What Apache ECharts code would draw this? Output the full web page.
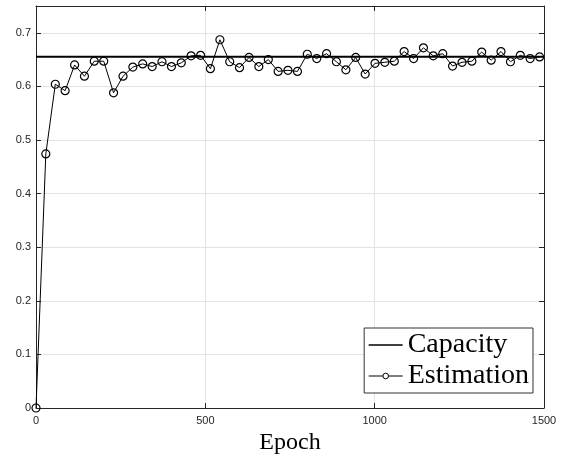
<!DOCTYPE html>
<html>
<head>
<meta charset="utf-8">
<script src="https://cdn.jsdelivr.net/npm/echarts@6/dist/echarts.min.js"></script>
<style>html,body{margin:0;padding:0;background:#fff;}#c{width:566px;height:456px;}</style>
</head>
<body>
<div id="c"></div>
<script>
const epochs = [0, 29, 57, 86, 114, 143, 172, 200, 229, 257, 286, 315, 343, 372, 400, 429, 458, 486, 515, 543, 572, 601, 629, 658, 686, 715, 744, 772, 801, 829, 858, 887, 915, 944, 972, 1001, 1030, 1058, 1087, 1115, 1144, 1173, 1201, 1230, 1258, 1287, 1316, 1344, 1373, 1401, 1430, 1459, 1487];
const estimation = [0, 0.474, 0.604, 0.592, 0.640, 0.619, 0.647, 0.647, 0.588, 0.619, 0.636, 0.642, 0.637, 0.646, 0.637, 0.644, 0.657, 0.658, 0.633, 0.687, 0.646, 0.635, 0.654, 0.637, 0.650, 0.628, 0.630, 0.628, 0.660, 0.652, 0.661, 0.646, 0.631, 0.654, 0.623, 0.643, 0.645, 0.647, 0.665, 0.652, 0.672, 0.657, 0.661, 0.638, 0.645, 0.647, 0.664, 0.649, 0.665, 0.646, 0.658, 0.652, 0.655];
const capacityX = [0, 1500];
const capacityY = [0.6555, 0.6555];
const seriesNames = ['Capacity', 'Estimation'];
const xLabel = 'Epoch';

const chart = echarts.init(document.getElementById('c'), null, {renderer: 'canvas'});
const lblColor = '#262626';
const axisCol = '#262626';
const gridCol = '#e3e3e3';
const serif = 'Liberation Serif, DejaVu Serif, serif';
const sans = 'Liberation Sans, Arial, sans-serif';
const xCommon = {type: 'value', min: 0, max: 1500, interval: 500};
const yCommon = {type: 'value', min: 0, max: 0.75, interval: 0.1};
const line = {show: true, onZero: false, lineStyle: {color: axisCol, width: 1}};
const tick = {show: true, inside: true, length: 5, lineStyle: {color: axisCol}};
chart.setOption({
  animation: false,
  grid: {left: 36, right: 22, top: 6, bottom: 48, containLabel: false, outerBoundsMode: 'none'},
  legend: {
    right: 33, bottom: 63,
    orient: 'vertical',
    backgroundColor: '#fff',
    borderColor: '#333', borderWidth: 1, borderRadius: 0,
    padding: [3, 4, 3, 4],
    itemGap: 3,
    itemWidth: 34, itemHeight: 7,
    textStyle: {fontFamily: serif, fontSize: 28, color: '#000'},
    data: [
      {name: seriesNames[0], icon: 'path://M0,0h34v1.5h-34z', itemStyle: {color: '#000'}},
      {name: seriesNames[1], itemStyle: {color: '#fff', borderColor: '#000', borderWidth: 1}, lineStyle: {color: '#000', width: 1}}
    ]
  },
  xAxis: [
    Object.assign({}, xCommon, {
      position: 'bottom',
      name: xLabel, nameLocation: 'middle', nameGap: 19,
      nameTextStyle: {fontFamily: serif, fontSize: 24, color: '#000'},
      axisLine: line, axisTick: tick,
      axisLabel: {color: lblColor, fontSize: 11, fontFamily: sans, margin: 7, formatter: v => String(v)},
      splitLine: {show: true, lineStyle: {color: gridCol, width: 1}}
    }),
    Object.assign({}, xCommon, {
      position: 'top',
      axisLine: line, axisTick: tick,
      axisLabel: {show: false},
      splitLine: {show: false}
    })
  ],
  yAxis: [
    Object.assign({}, yCommon, {
      position: 'left',
      axisLine: line, axisTick: tick,
      axisLabel: {color: lblColor, fontSize: 11, fontFamily: sans, margin: 5, showMaxLabel: false,
        formatter: v => (Math.abs(v - 0.75) < 1e-9 ? '' : String(Math.round(v * 10) / 10))},
      splitLine: {show: true, lineStyle: {color: gridCol, width: 1}}
    }),
    Object.assign({}, yCommon, {
      position: 'right',
      axisLine: line, axisTick: tick,
      axisLabel: {show: false},
      splitLine: {show: false}
    })
  ],
  series: [
    {
      name: seriesNames[0], type: 'line',
      data: capacityX.map((x, i) => [x, capacityY[i]]),
      symbol: 'none', showSymbol: false,
      lineStyle: {color: '#000', width: 2},
      itemStyle: {color: '#000'},
      z: 3
    },
    {
      name: seriesNames[1], type: 'line',
      data: epochs.map((x, i) => [x, estimation[i]]),
      symbol: 'circle', symbolSize: 8, showAllSymbol: true,
      lineStyle: {color: '#000', width: 1},
      itemStyle: {color: 'rgba(0,0,0,0)', borderColor: '#000', borderWidth: 1.2},
      z: 2
    }
  ]
});
</script>
</body>
</html>
